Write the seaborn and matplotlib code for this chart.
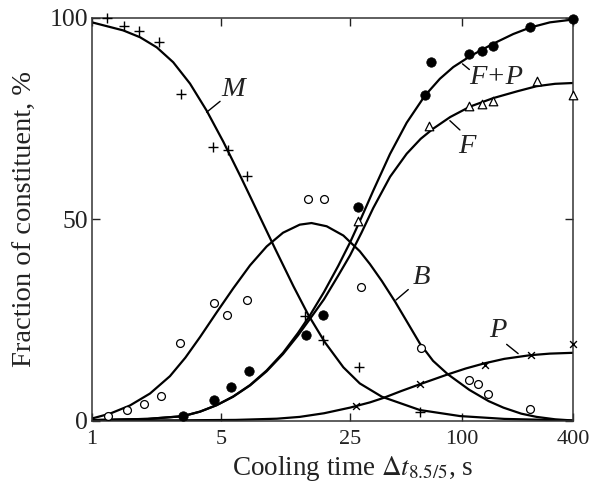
import numpy as np
import matplotlib
matplotlib.use("Agg")
import matplotlib.pyplot as plt
import seaborn as sns

# ---------------- data ----------------
# measured points
M_x = [1.21, 1.49, 1.80, 2.29, 3.03, 4.53, 5.46, 6.87, 14.2, 17.8, 27.8, 59.4]
M_y = [99.9, 98.0, 96.6, 94.0, 81.0, 67.8, 67.2, 60.7, 25.9, 19.9, 13.4, 2.2]

B_x = [1.22, 1.54, 1.91, 2.36, 2.99, 4.58, 5.39, 6.92, 14.8, 18.0, 28.7, 60.2, 109, 122, 139, 234]
B_y = [1.1, 2.7, 4.0, 6.2, 19.2, 29.2, 26.3, 30.0, 55.0, 55.0, 33.2, 18.1, 10.1, 9.0, 6.5, 2.9]

FP_x = [3.09, 4.58, 5.65, 7.07, 14.3, 17.7, 27.6, 63.2, 68.1, 109, 128, 148, 234, 400]
FP_y = [1.1, 5.2, 8.3, 12.4, 21.1, 26.1, 52.9, 80.8, 88.9, 91.0, 91.6, 93.0, 97.6, 99.7]

F_x = [27.6, 66.7, 109, 128, 148, 254, 400]
F_y = [49.5, 73.0, 78.0, 78.6, 79.2, 84.2, 80.8]

P_x = [26.8, 59.4, 133, 236, 400]
P_y = [3.7, 9.1, 13.7, 16.3, 18.9]

# fitted curves
Mc_x = [1, 1.476, 1.82, 2.24, 2.75, 3.39, 4.17, 5.13, 6.45, 7.31, 8.1, 9.77, 12.3, 14.8,
        18.2, 22.9, 28.1, 37, 59.4, 98, 170, 400]
Mc_y = [98.8, 96.8, 95.1, 92.6, 88.9, 83.6, 76.9, 69.2, 60.0, 54.8, 50.5, 42.7, 33.3, 26.2,
        19.4, 13.2, 9.2, 5.9, 2.6, 1.1, 0.4, 0.0]

Bc_x = [1, 1.25, 1.6, 2.06, 2.64, 3.2, 3.84, 4.72, 5.81, 7.16, 8.81, 10.8, 13.3, 15.4, 18.6,
        22.9, 28.1, 31.9, 37, 43.6, 50, 59.4, 70, 84, 110, 140, 168, 210, 254, 320, 400]
Bc_y = [0.5, 1.7, 3.7, 6.7, 11.0, 15.6, 20.7, 26.8, 32.8, 38.5, 43.2, 46.6, 48.6, 49.0, 48.2,
        45.9, 42.0, 38.8, 34.6, 29.5, 24.9, 19.1, 14.8, 11.5, 7.6, 4.8, 3.2, 1.7, 0.9, 0.3, 0.0]

FPc_x = [1, 2, 3.1, 3.84, 4.72, 5.8, 7.16, 8.8, 10.8, 13, 15.1, 18, 21.5, 24.9, 28.7, 33.2,
         40.9, 50.4, 63.2, 76.2, 90, 111, 148, 190, 234, 300, 400]
FPc_y = [0.1, 0.4, 1.07, 2.2, 3.8, 5.95, 8.8, 12.4, 16.8, 21.7, 26.1, 31.9, 38.4, 44.2, 50.4,
         57.0, 66.1, 73.9, 80.6, 84.8, 87.7, 90.4, 93.5, 95.9, 97.5, 98.8, 99.5]

Fc_x = [1, 2, 3.1, 3.84, 4.72, 5.8, 7.16, 8.8, 10.8, 13, 15.1, 18, 21.5, 24.9, 28.7, 33.2,
        41, 50.4, 60, 70, 86.6, 111, 148, 200, 254, 320, 400]
Fc_y = [0.1, 0.4, 1.07, 2.2, 3.8, 5.9, 8.7, 12.2, 16.5, 21.1, 25.2, 30.1, 36.0, 41.0, 46.6,
        52.7, 60.5, 66.2, 69.9, 72.4, 75.3, 77.9, 80.0, 81.7, 82.95, 83.55, 83.75]

Pc_x = [1, 3, 6, 10, 13.3, 18, 24.9, 31.9, 37.7, 47, 59.4, 83.5, 105, 133, 170, 234, 300, 400]
Pc_y = [0.0, 0.05, 0.15, 0.45, 0.9, 1.8, 3.2, 4.5, 5.6, 7.3, 9.0, 11.4, 12.9, 14.2, 15.3, 16.2,
        16.6, 16.8]

x_ticks = [1, 5, 25, 100, 400]
x_ticklabels = ["1", "5", "25", "100", "400"]
y_ticks = [0, 50, 100]
y_ticklabels = ["0", "50", "100"]

# ---------------- style ----------------
sns.set_style("ticks")
plt.rcParams['font.family'] = ['Liberation Serif', 'DejaVu Serif']
plt.rcParams['mathtext.fontset'] = 'stix'

fig = plt.figure(figsize=(5.97, 4.88), dpi=100)
ax = fig.add_axes([0.1541, 0.1383, 0.8057, 0.8258])
ax.set_xscale('log')

for cx, cy in [(Mc_x, Mc_y), (Bc_x, Bc_y), (FPc_x, FPc_y), (Fc_x, Fc_y), (Pc_x, Pc_y)]:
    sns.lineplot(x=cx, y=cy, ax=ax, color='black', lw=1.6, estimator=None, sort=True)

sns.scatterplot(x=M_x, y=M_y, ax=ax, marker='+', s=50, color='black', linewidth=1.0,
                clip_on=False, zorder=4)
sns.scatterplot(x=B_x, y=B_y, ax=ax, marker='o', s=32, facecolors='white',
                edgecolors='black', linewidths=0.9, clip_on=False, zorder=4)
sns.scatterplot(x=FP_x, y=FP_y, ax=ax, marker='o', s=46, color='black',
                edgecolor='black', clip_on=False, zorder=4)
sns.scatterplot(x=F_x, y=F_y, ax=ax, marker='^', s=38, facecolors='white',
                edgecolors='black', linewidths=0.9, clip_on=False, zorder=4)
sns.scatterplot(x=P_x, y=P_y, ax=ax, marker='x', s=24, color='black', linewidth=1.0,
                clip_on=False, zorder=4)

ax.set_xlim(1, 400)
ax.set_ylim(0, 100)
ax.set_xticks(x_ticks)
ax.set_xticklabels(x_ticklabels)
ax.xaxis.set_minor_locator(matplotlib.ticker.NullLocator())
ax.set_yticks(y_ticks)
ax.set_yticklabels(y_ticklabels)

ax.tick_params(axis='both', which='major', direction='in', length=6, width=1.0,
               top=True, right=True, colors='#222222', labelcolor='#222222')
ax.tick_params(axis='x', labelsize=16, pad=7)
ax.tick_params(axis='y', labelsize=18.5, pad=3)
for sp in ax.spines.values():
    sp.set_linewidth(1.1)
    sp.set_color('#333333')

ax.set_xlabel(r"Cooling time $\Delta t_{8.5/5}$, s", fontsize=19.5, color='#222222')
ax.set_ylabel("Fraction of constituent, %", fontsize=20.5, color='#222222')
ax.xaxis.set_label_coords(0.5416, -0.083)
ax.yaxis.set_label_coords(-0.113, 0.5)

# curve labels with leader lines
lab_kw = dict(fontsize=20.5, fontstyle='italic', color='#222222', ha='center', va='center')
ax.text(5.79, 82.1, "M", **lab_kw)
ax.plot([4.17, 4.93], [76.5, 79.2], color='black', lw=1.0)
ax.text(154, 85.0, "F+P", **lab_kw)
ax.plot([101, 110], [88.5, 87.1], color='black', lw=1.0)
ax.text(106, 68.0, "F", **lab_kw)
ax.plot([86.3, 97.8], [74.4, 72.1], color='black', lw=1.0)
ax.text(60.7, 35.6, "B", **lab_kw)
ax.plot([44.1, 51.4], [29.9, 32.5], color='black', lw=1.0)
ax.text(157.5, 22.4, "P", **lab_kw)
ax.plot([175, 202], [18.9, 16.6], color='black', lw=1.0)

fig.savefig("out.png", dpi=100)
